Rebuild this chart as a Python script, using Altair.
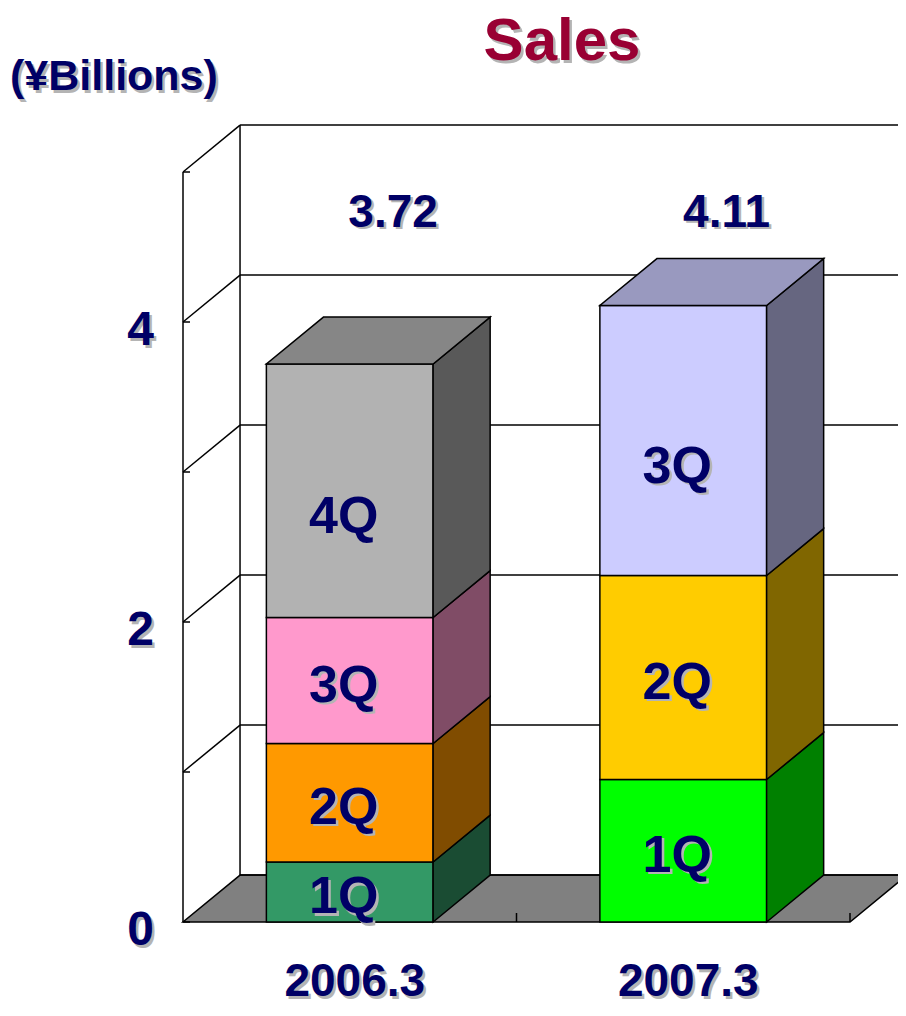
import altair as alt
import pandas as pd

# ---------------- data ----------------
categories = ["2006.3", "2007.3"]
quarters = ["1Q", "2Q", "3Q", "4Q"]
sales_2006 = [0.40, 0.79, 0.84, 1.69]
sales_2007 = [0.95, 1.36, 1.80]
totals = [3.72, 4.11]
colors_2006 = ["#339966", "#ff9900", "#ff99cc", "#b2b2b2"]
colors_2007 = ["#00ff00", "#ffcc00", "#ccccff"]
y_ticks = [0, 1, 2, 3, 4, 5]
y_tick_labels = [0, 2, 4]

# ---------------- geometry / style ----------------
W, H = 715, 822
XMAX = W / 333.5
YMAX = H / 150.0
DX, DY = 0.171, 0.313      # 3D depth offsets
HALF = 0.25                # half bar width (category units)
NAVY = "#000066"
SHADOW = "#b4b4b4"
FONT = "Liberation Sans"
SW = 1.5

xs = alt.Scale(domain=[0, XMAX], nice=False, zero=False)
ys = alt.Scale(domain=[0, YMAX], nice=False, zero=False)


def X(f, **kw):
    return alt.X(f, type="quantitative", scale=xs, axis=None, **kw)


def Y(f, **kw):
    return alt.Y(f, type="quantitative", scale=ys, axis=None, **kw)


def shade(hexc, k):
    h = hexc.lstrip("#")
    r, g, b = (int(h[i:i + 2], 16) for i in (0, 2, 4))
    return "#%02x%02x%02x" % (round(r * k), round(g * k), round(b * k))


# ---------------- build tables ----------------
front_rows, side_rows, top_rows, label_rows = [], [], [], []
series = [(sales_2006, colors_2006), (sales_2007, colors_2007)]
for i, (vals, cols) in enumerate(series):
    base = 0.0
    left, right = i + 0.5 - HALF, i + 0.5 + HALF
    for j, (v, c) in enumerate(zip(vals, cols)):
        top = base + v
        seg = f"{i}-{j}"
        is_top = j == len(vals) - 1
        front_rows.append(dict(x0=left, x1=right, y0=base, y1=top, color=c))
        side_rows.append(dict(seg=seg, x=right, lo=base, hi=top, color=shade(c, 0.5)))
        side_rows.append(dict(seg=seg, x=right + DX, lo=base + DY, hi=top + DY, color=shade(c, 0.5)))
        label_rows.append(dict(x=i + 0.5, y=(base + top) / 2, t=quarters[j], top=is_top))
        if is_top:
            top_rows.append(dict(seg=seg, y=top, xl=left, xr=right, color=shade(c, 0.75)))
            top_rows.append(dict(seg=seg, y=top + DY, xl=left + DX, xr=right + DX, color=shade(c, 0.75)))
        base = top

front_df = pd.DataFrame(front_rows)
side_df = pd.DataFrame(side_rows)
top_df = pd.DataFrame(top_rows)
label_df = pd.DataFrame(label_rows)
label_mid_df = label_df[~label_df["top"]].drop(columns="top")
label_top_df = label_df[label_df["top"]].drop(columns="top")

n = len(categories)
floor_df = pd.DataFrame(dict(y=[0, DY], xl=[0, DX], xr=[n, n + DX]))
grid_df = pd.DataFrame(dict(y=[k + DY for k in y_ticks], x0=DX, x1=n + DX))
diag_df = pd.DataFrame(dict(x0=0.0, x1=DX, y0=[k for k in y_ticks[1:]],
                            y1=[k + DY for k in y_ticks[1:]]))
vert_df = pd.DataFrame(dict(x=[0.0, DX], y0=[0.0, DY], y1=[y_ticks[-1], y_ticks[-1] + DY]))
ytick_df = pd.DataFrame(dict(y=y_ticks, x0=0.0, x1=0.021))
xtick_df = pd.DataFrame(dict(x=list(range(1, n + 1)), y0=0.0, y1=0.06))
ylab_df = pd.DataFrame(dict(y=y_tick_labels, t=[str(v) for v in y_tick_labels], x=0.0))
xlab_df = pd.DataFrame(dict(x=[i + 0.5 for i in range(n)], y=0.0, t=categories))
tot_df = pd.DataFrame(dict(x=[i + 0.5 + 0.13 for i in range(n)],
                           y=max(totals) + 0.62, t=[f"{t:.2f}" for t in totals]))

# ---------------- layers ----------------
floor = alt.Chart(floor_df).mark_area(orient="horizontal", fill="#808080", stroke="black",
                                      strokeWidth=SW).encode(
    y=Y("y", stack=None), x=X("xl", stack=None), x2="xr")

grid = alt.Chart(grid_df).mark_rule(color="black", strokeWidth=SW).encode(
    x=X("x0"), x2="x1", y=Y("y"))

diag = alt.Chart(diag_df).mark_rule(color="black", strokeWidth=SW).encode(
    x=X("x0"), x2="x1", y=Y("y0"), y2="y1")

vert = alt.Chart(vert_df).mark_rule(color="black", strokeWidth=SW).encode(
    x=X("x"), y=Y("y0"), y2="y1")

yticks = alt.Chart(ytick_df).mark_rule(color="black", strokeWidth=SW).encode(
    x=X("x0"), x2="x1", y=Y("y"))

xticks = alt.Chart(xtick_df).mark_rule(color="black", strokeWidth=SW).encode(
    x=X("x"), y=Y("y0"), y2="y1")

fronts = alt.Chart(front_df).mark_rect(stroke="black", strokeWidth=SW).encode(
    x=X("x0"), x2="x1", y=Y("y0"), y2="y1", fill=alt.Fill("color:N", scale=None))

sides = alt.Chart(side_df).mark_area(orient="vertical", stroke="black", strokeWidth=SW).encode(
    x=X("x"), y=Y("lo", stack=None), y2="hi",
    fill=alt.Fill("color:N", scale=None), detail="seg:N")

tops = alt.Chart(top_df).mark_area(orient="horizontal", stroke="black", strokeWidth=SW).encode(
    y=Y("y", stack=None), x=X("xl", stack=None), x2="xr",
    fill=alt.Fill("color:N", scale=None), detail="seg:N")


def shadow_text(df, xf, yf, size, color, align="center", dx=0, dy=0, weight="bold", off=2.5):
    layers = []
    for c, ox in ((SHADOW, off), (color, 0)):
        layers.append(alt.Chart(df).mark_text(
            font=FONT, fontSize=size, fontWeight=weight, color=c, align=align,
            baseline="middle", dx=dx + ox, dy=dy + ox).encode(
            x=X(xf), y=Y(yf), text="t:N"))
    return layers


def fixed_text(text, px, py, size, color, align="center", off=2.5):
    df = pd.DataFrame(dict(t=[text]))
    layers = []
    for c, ox in ((SHADOW, off), (color, 0)):
        layers.append(alt.Chart(df).mark_text(
            font=FONT, fontSize=size, fontWeight="bold", color=c, align=align,
            baseline="middle").encode(
            x=alt.value(px + ox), y=alt.value(py + ox), text="t:N"))
    return layers


texts = []
texts += shadow_text(label_mid_df, "x", "y", 52, NAVY, dx=-6, dy=5)
texts += shadow_text(label_top_df, "x", "y", 52, NAVY, dx=-6, dy=26)
texts += shadow_text(ylab_df, "x", "y", 48, NAVY, align="right", dx=-29, dy=9)
texts += shadow_text(xlab_df, "x", "y", 46, NAVY, dx=5, dy=60)
texts += shadow_text(tot_df, "x", "y", 46, NAVY)
texts += fixed_text("Sales", 379, -58, 60, "#990033")
texts += fixed_text("(¥Billions)", -173, -23, 43, NAVY, align="left")

chart = alt.layer(
    floor, grid, diag, vert, yticks, xticks, fronts, sides, tops, *texts
).properties(
    width=W, height=H,
    autosize=alt.AutoSizeParams(type="none"),
    padding={"left": 175, "top": 92, "right": 0, "bottom": 86},
    background="white",
).configure_view(strokeWidth=0, stroke="transparent")

chart.save("out.html", embed_options={"renderer": "svg", "actions": False})
